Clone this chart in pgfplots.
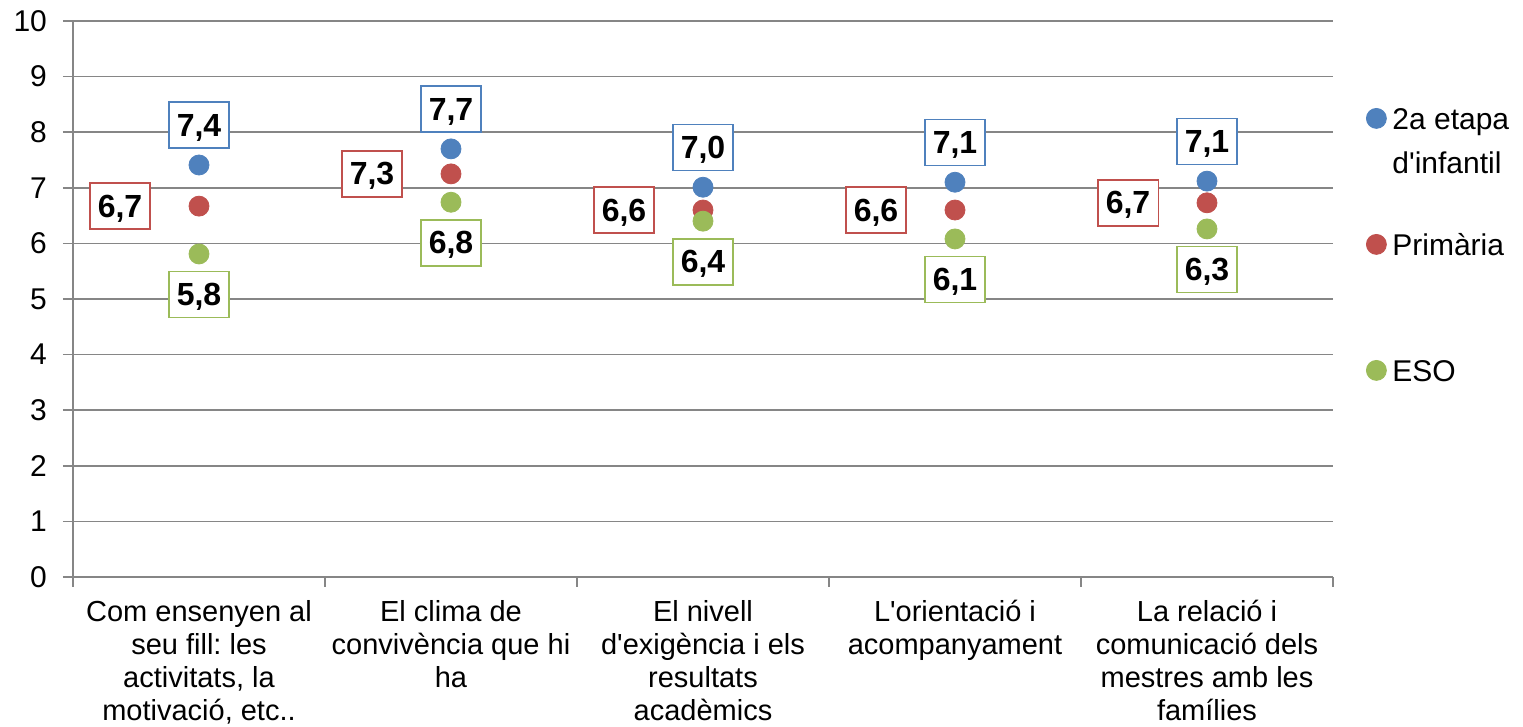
\documentclass[border=0pt]{standalone}
\usepackage{pgfplots}
\pgfplotsset{compat=1.18}
\usepackage{fontspec}
\setmainfont{Liberation Sans}
\frenchspacing
\newcommand{\ap}{\textquotesingle}

\definecolor{sblue}{HTML}{4F81BD}
\definecolor{sred}{HTML}{C0504D}
\definecolor{sgreen}{HTML}{9BBB59}
\definecolor{gridgray}{RGB}{134,134,134}

\begin{document}
\begin{tikzpicture}
\path[use as bounding box] (-36.5pt,-75pt) rectangle (725pt,288.5pt);
\begin{axis}[
  scale only axis,
  width=630pt, height=278pt,
  at={(0,0)}, anchor=south west,
  xmin=0.5, xmax=5.5,
  ymin=0, ymax=10,
  ytick={0,1,...,10},
  xtick={0.5,1.5,...,5.5},
  x tick label as interval,
  xticklabels={
    {Com ensenyen al\\seu fill: les\\activitats, la\\motivació, etc..},
    {El clima de\\convivència que hi\\ha},
    {El nivell\\d\ap exigència i els\\resultats\\acadèmics},
    {L\ap orientació i\\acompanyament},
    {La relació i\\comunicació dels\\mestres amb les\\famílies}},
  xticklabel style={align=center, font=\fontsize{14.5}{16.5}\selectfont, anchor=north, yshift=-3pt},
  yticklabel style={font=\fontsize{15}{18}\selectfont, xshift=-4.5pt},
  /pgf/number format/assume math mode=true,
  axis x line*=bottom,
  axis y line*=left,
  axis line style={draw=gridgray, line width=0.75pt, -},
  tick style={draw=gridgray, line width=0.75pt},
  tick align=outside,
  major tick length=5pt,
  ymajorgrids,
  grid style={draw=gridgray, line width=0.75pt},
  clip=false,
  legend image code/.code={\draw[#1] plot coordinates {(0pt,0pt)};},
  legend cell align=left,
  legend style={draw=none, fill=none, inner sep=0pt,
    at={(1,1)}, anchor=north west, xshift=16.5pt, yshift=-43pt,
    row sep=52pt, column sep=3pt,
    font=\fontsize{15}{22}\selectfont,
    nodes={inner sep=0pt, text height=11pt, text depth=0pt}},
  every node near coord/.append style={font=\fontsize{16}{18}\selectfont\bfseries,
    text=black, fill=white, line width=0.75pt, inner xsep=4pt, inner ysep=6pt,
    text height=11pt, text depth=0pt},
  nodes near coords,
  point meta=explicit symbolic,
]
\addplot[only marks, mark=*, mark size=5pt, color=sblue,
  every node near coord/.append style={draw=sblue, anchor=south, yshift=8pt}]
  coordinates {(1,7.41) [7,4] (2,7.70) [7,7] (3,7.01) [7,0] (4,7.10) [7,1] (5,7.12) [7,1]};
\addlegendentry{\begin{tabular}[t]{@{}l@{}}2a etapa\\d\ap infantil\end{tabular}}
\addplot[only marks, mark=*, mark size=5pt, color=sred,
  every node near coord/.append style={draw=sred, anchor=east, xshift=-24pt}]
  coordinates {(1,6.67) [6,7] (2,7.25) [7,3] (3,6.60) [6,6] (4,6.60) [6,6] (5,6.73) [6,7]};
\addlegendentry{Primària}
\addplot[only marks, mark=*, mark size=5pt, color=sgreen,
  every node near coord/.append style={draw=sgreen, anchor=north, yshift=-8.5pt}]
  coordinates {(1,5.81) [5,8] (2,6.74) [6,8] (3,6.40) [6,4] (4,6.08) [6,1] (5,6.26) [6,3]};
\addlegendentry{ESO}
\end{axis}
\end{tikzpicture}
\end{document}
